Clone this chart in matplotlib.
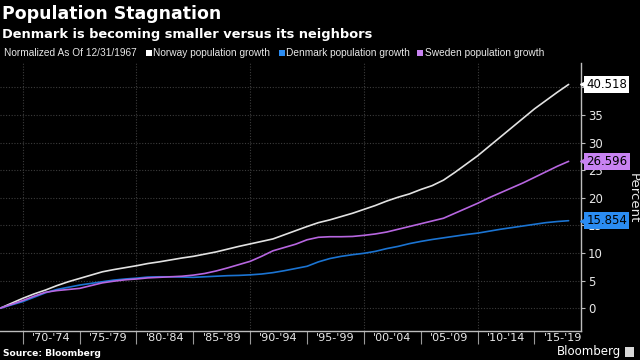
import matplotlib
matplotlib.use("Agg")
import matplotlib.pyplot as plt
import matplotlib.transforms as mtransforms
from matplotlib.patches import Rectangle

years = list(range(1968, 2019))
norway = [0, 0.9, 1.8, 2.6, 3.3, 4.1, 4.8, 5.4, 6.0, 6.6, 7.0, 7.35, 7.7, 8.1, 8.4, 8.75,
          9.1, 9.4, 9.8, 10.2, 10.7, 11.2, 11.65, 12.1, 12.55, 13.3, 14.05, 14.8, 15.5,
          16.0, 16.6, 17.2, 17.9, 18.6, 19.4, 20.1, 20.7, 21.5, 22.2, 23.2, 24.6, 26.1,
          27.6, 29.3, 31.0, 32.7, 34.4, 36.1, 37.6, 39.1, 40.518]
denmark = [0, 0.6, 1.2, 2.0, 2.8, 3.4, 3.8, 4.2, 4.5, 4.8, 5.1, 5.3, 5.45, 5.65, 5.7, 5.7,
           5.65, 5.6, 5.7, 5.8, 5.9, 5.95, 6.05, 6.2, 6.45, 6.8, 7.2, 7.6, 8.4, 9.0, 9.4,
           9.7, 9.95, 10.3, 10.8, 11.2, 11.7, 12.1, 12.45, 12.75, 13.05, 13.35, 13.6,
           13.95, 14.3, 14.6, 14.9, 15.2, 15.5, 15.7, 15.854]
sweden = [0, 0.7, 1.4, 2.2, 2.9, 3.2, 3.4, 3.6, 4.1, 4.6, 4.9, 5.15, 5.3, 5.5, 5.6, 5.7,
          5.8, 6.0, 6.3, 6.75, 7.3, 7.9, 8.5, 9.4, 10.4, 11.0, 11.6, 12.4, 12.85, 12.95,
          12.95, 13.0, 13.2, 13.45, 13.8, 14.3, 14.8, 15.3, 15.8, 16.3, 17.2, 18.1, 19.0,
          20.0, 20.9, 21.8, 22.7, 23.7, 24.7, 25.7, 26.596]
series_names = ["Norway population growth", "Denmark population growth", "Sweden population growth"]
end_labels = ["40.518", "15.854", "26.596"]
period_labels = ["'70-'74", "'75-'79", "'80-'84", "'85-'89", "'90-'94",
                 "'95-'99", "'00-'04", "'05-'09", "'10-'14", "'15-'19"]
period_starts = [1970, 1975, 1980, 1985, 1990, 1995, 2000, 2005, 2010, 2015]
y_ticks = [0, 5, 10, 15, 20, 25, 30, 35, 40]
y_tick_labels = ["0", "5", "10", "15", "20", "25", "30", "35", ""]

line_colors = ["#e2e2e2", "#1b74d2", "#b766e0"]
box_colors = ["#ffffff", "#2b8cf2", "#c883f2"]
legend_font = ["Liberation Sans", "DejaVu Sans"]

fig = plt.figure(figsize=(6.4, 3.6), dpi=100, facecolor="black")
ax = fig.add_axes([0.0, 0.0814, 0.908, 0.7436], facecolor="black")

for vals, c in zip([norway, denmark, sweden], line_colors):
    ax.plot(years, vals, color=c, lw=1.2, solid_capstyle="round", zorder=3)

ax.set_xlim(1968, 2019.1)
ax.set_ylim(-4.06, 44.4)

# grid
for y in y_ticks:
    ax.axhline(y, color="#3c3c3c", lw=0.8, ls=(0, (1, 1.5)), zorder=1)
for x in [1970, 1980, 1990, 2000, 2010]:
    ax.axvline(x, color="#3c3c3c", lw=0.8, ls=(0, (1, 1.5)), zorder=1)

# spines
for s in ["left", "top"]:
    ax.spines[s].set_visible(False)
for s in ["right", "bottom"]:
    ax.spines[s].set_color("#bdbdbd")
    ax.spines[s].set_linewidth(1.0)

# x ticks
ax.set_xticks(period_starts)
ax.set_xticklabels([])
ax.set_xticks([p + 2.5 for p in period_starts], minor=True)
ax.set_xticklabels(period_labels, minor=True)
ax.tick_params(axis="x", which="major", length=9, width=0.8, color="#9a9a9a", direction="out")
ax.tick_params(axis="x", which="minor", length=0, pad=2, labelsize=8, labelcolor="#e8e8e8")

# y ticks on right
ax.yaxis.tick_right()
ax.set_yticks(y_ticks)
ax.set_yticklabels(y_tick_labels)
ax.tick_params(axis="y", which="major", length=3, width=0.8, color="#bdbdbd",
               direction="out", pad=2, labelsize=8.5, labelcolor="#e8e8e8")

# end labels
trans = mtransforms.blended_transform_factory(ax.transAxes, ax.transData)
for vals, lab, bc in zip([norway, denmark, sweden], end_labels, box_colors):
    v = vals[-1]
    ax.plot([1.0 + 0.0075], [v], marker="<", ms=7, color=bc, mec=bc,
            transform=trans, clip_on=False, zorder=10)
    ax.annotate(lab, xy=(1.0, v), xycoords=trans, xytext=(3.8, 0),
                textcoords="offset points", ha="left", va="center",
                fontsize=8.5, color="black",
                bbox=dict(boxstyle="square,pad=0.18", fc=bc, ec="none"),
                zorder=11, annotation_clip=False)

fig.text(0.99, 0.45, "Percent", rotation=270, ha="center", va="center",
         fontsize=9.5, color="#e8e8e8")

# titles
fig.text(0.003, 0.985, "Population Stagnation", ha="left", va="top",
         fontsize=12.5, fontweight="bold", color="white")
fig.text(0.003, 0.922, "Denmark is becoming smaller versus its neighbors", ha="left", va="top",
         fontsize=9.4, fontweight="bold", color="white")

# legend row
ly = 1 - 53 / 360
fig.text(4 / 640, ly, "Normalized As Of 12/31/1967", ha="left", va="center",
         fontsize=7.25, color="#e8e8e8", family=legend_font)
sq_x = [146, 279, 417]
tx_x = [153, 286, 425]
for sx, tx, name, bc in zip(sq_x, tx_x, series_names, box_colors):
    fig.patches.append(Rectangle((sx / 640, ly - 3 / 360), 5.5 / 640, 6 / 360,
                                 transform=fig.transFigure, fc=bc, ec="none"))
    fig.text(tx / 640, ly, name, ha="left", va="center", fontsize=7.25,
             color="#e8e8e8", family=legend_font)

# footer
fig.text(3 / 640, 1 - 353 / 360, "Source: Bloomberg", ha="left", va="center",
         fontsize=6.6, fontweight="bold", color="white")
fig.text(621 / 640, 1 - 352 / 360, "Bloomberg", ha="right", va="center",
         fontsize=8.5, color="white")
fig.patches.append(Rectangle((625 / 640, 1 - 357 / 360), 9 / 640, 10 / 360,
                             transform=fig.transFigure, fc="#d8d8d8", ec="none"))

fig.savefig("out.png", dpi=100, facecolor="black")
